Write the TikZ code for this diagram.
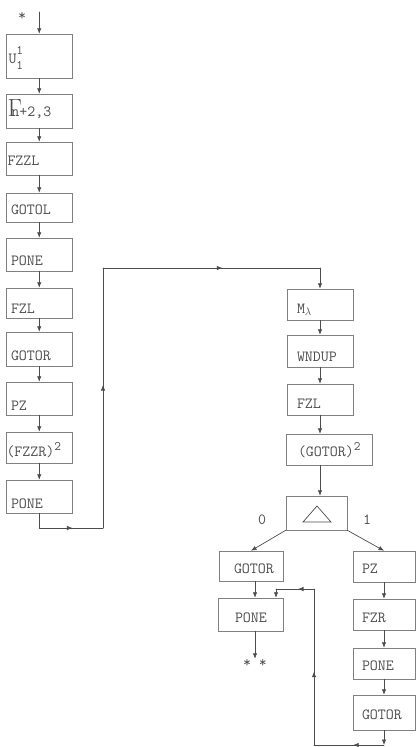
\documentclass[tikz,border=0pt]{standalone}
\usepackage{fontspec}
\usetikzlibrary{arrows.meta,decorations.markings}
\setlength{\parindent}{0pt}
\definecolor{linec}{gray}{0.3}
\definecolor{boxc}{gray}{0.5}
\definecolor{txtc}{gray}{0.3}
\newcommand{\tfont}{\ttfamily\fontsize{15.5}{17}\selectfont}
\newcommand{\sqr}{\raisebox{6pt}{\fontsize{13}{13}\selectfont 2}}
\newcommand{\smallone}{\fontsize{13}{13}\selectfont 1}
\tikzset{
  box/.style 2 args={draw=boxc, line width=0.5pt, inner sep=0pt, text width=#1pt,
    minimum height=#2pt, align=left, text depth=0pt, font=\tfont, text=txtc},
  lbl/.style={inner sep=0pt, font=\tfont, text=txtc},
  conn/.style={color=linec, line width=0.7pt, line cap=round},
  arr/.style={conn, -{Latex[length=5.5pt,width=4.5pt]}},
  midarr/.style={postaction={decorate}, decoration={markings,
    mark=at position #1 with {\arrow{Latex[length=5.5pt,width=4.5pt]}}}},
}
\begin{document}
\begin{tikzpicture}[x=1pt,y=-1pt]
\useasboundingbox (0,0) rectangle (416,747);

% left column
\node[lbl] (star1) at (22,16) {*};
\coordinate (s0) at (39.25,12);
\node[box={65.5}{44}, text height=14pt] (u) at (39.25,56) {\hspace*{2pt}U\rlap{\raisebox{9pt}{\smallone}}\raisebox{-6pt}{\smallone}};
\node[box={65.5}{34}, text height=10pt] (f) at (39.25,111) {\leavevmode\hspace*{1pt}\rlap{\fontsize{24}{24}\selectfont$\Gamma$}\hspace*{4pt}n+2,3};
\node[box={65.5}{33}, text height=13pt] (fzzl) at (39.25,158.5) {\hspace*{1pt}FZZL};
\node[box={65.5}{29}, text height=13pt] (gotol) at (39.25,207.5) {\hspace*{4.5pt}GOTOL};
\node[box={65.5}{33}, text height=21pt] (pone1) at (39.25,254.5) {\hspace*{4.5pt}PONE};
\node[box={65.5}{30}, text height=20pt] (fzl1) at (39.25,303) {\hspace*{4.5pt}FZL};
\node[box={65.5}{34}, text height=23pt] (gotor1) at (39.25,349) {\hspace*{4.5pt}GOTOR};
\node[box={65.5}{33}, text height=23pt] (pz1) at (39.25,398.5) {\hspace*{4.5pt}PZ};
\node[box={65.5}{31}, text height=17pt] (fzzr) at (39.25,447.5) {(FZZR)\sqr};
\node[box={65.5}{33}, text height=23pt] (pone2) at (39.25,496.5) {\hspace*{4.5pt}PONE};

\draw[arr] (s0) -- (u.north);
\draw[arr] (u.south) -- (f.north);
\draw[arr] (f.south) -- (fzzl.north);
\draw[arr] (fzzl.south) -- (gotol.north);
\draw[arr] (gotol.south) -- (pone1.north);
\draw[arr] (pone1.south) -- (fzl1.north);
\draw[arr] (fzl1.south) -- (gotor1.north);
\draw[arr] (gotor1.south) -- (pz1.north);
\draw[arr] (pz1.south) -- (fzzr.north);
\draw[arr] (fzzr.south) -- (pone2.north);

% link to right column
\coordinate (c1) at (39.25,528);
\coordinate (c2) at (103,528);
\coordinate (c3) at (103,268);
\coordinate (c4) at (320,268);
\draw[conn] (pone2.south) -- (c1);
\draw[conn, midarr=0.52] (c1) -- (c2);
\draw[conn, midarr=0.55] (c2) -- (c3);
\draw[conn, midarr=0.55] (c3) -- (c4);

% right column
\node[box={66}{31}, text height=17pt] (m) at (320,304.5) {\hspace*{10pt}M$_\lambda$};
\node[box={66}{32}, text height=20pt] (wnd) at (320,351) {\hspace*{10pt}WNDUP};
\node[box={66}{31}, text height=17pt] (fzl2) at (320,399.5) {\hspace*{10pt}FZL};
\node[box={86}{31}, text height=13pt] (g2) at (329,449.5) {\hspace*{12pt}(GOTOR)\sqr};
\node[box={61}{34}] (tri) at (316.5,513) {};
\draw[conn, line cap=butt, line join=miter] ([shift={(-13.5,9)}]tri.center) -- ([shift={(14.5,9)}]tri.center) -- ([shift={(0.5,-7)}]tri.center) -- cycle;
\node[lbl] (zero) at (262,520) {0};
\node[lbl] (one) at (367,520) {1};

\draw[arr] (c4) -- (m.north);
\draw[arr] (m.south) -- (wnd.north);
\draw[arr] (wnd.south) -- (fzl2.north);
\draw[arr] (fzl2.south) -- (fzl2.south |- g2.north);
\draw[arr] (fzl2.south |- g2.south) -- (fzl2.south |- tri.north);

% branch 0
\node[box={64}{30}, text height=14pt] (gl) at (251,566) {\hspace*{15pt}GOTOR};
\node[box={65}{33}, text height=15pt] (pl) at (250.5,614.5) {\hspace*{17pt}PONE};
\node[lbl] (stars) at (255,663) {* *};
\draw[arr] (tri.south west) -- (gl.north);
\draw[arr] (gl.south -| stars) -- (pl.north -| stars);
\draw[arr] (pl.south -| stars) -- (stars.north);

% branch 1
\node[box={62}{31}, text height=13pt] (pzr) at (384,566.5) {\hspace*{9pt}PZ};
\node[box={62}{31}, text height=15pt] (fzr) at (384,614.5) {\hspace*{9pt}FZR};
\node[box={62}{31}, text height=13pt] (poner) at (384,663.5) {\hspace*{9pt}PONE};
\node[box={62}{35}, text height=13pt] (gotorr) at (384,712.5) {\hspace*{9pt}GOTOR};
\draw[arr] (tri.south east) -- (pzr.north);
\draw[arr] (pzr.south) -- (fzr.north);
\draw[arr] (fzr.south) -- (poner.north);
\draw[arr] (poner.south) -- (gotorr.north);

% loop back
\coordinate (d1) at (384,745);
\coordinate (d2) at (314,745);
\coordinate (d3) at (314,589);
\coordinate (d4) at (276,589);
\draw[arr] (gotorr.south) -- (d1);
\draw[conn, midarr=0.44] (d1) -- (d2);
\draw[conn, midarr=0.47] (d2) -- (d3);
\draw[conn, midarr=0.42] (d3) -- (d4);
\draw[arr] (d4) -- (d4 |- pl.north);
\end{tikzpicture}
\end{document}
